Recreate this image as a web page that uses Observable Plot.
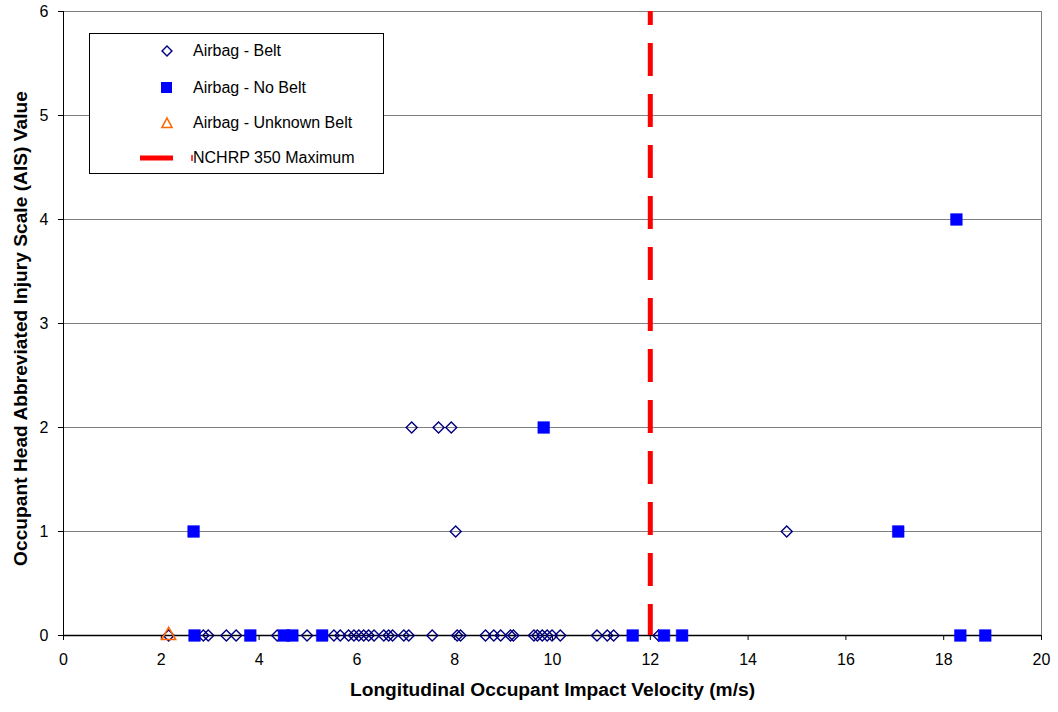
<!DOCTYPE html>
<html>
<head>
<meta charset="utf-8">
<script src="https://cdn.jsdelivr.net/npm/d3@7"></script>
<script src="https://cdn.jsdelivr.net/npm/@observablehq/plot@0.6"></script>
<style>
  html, body { margin: 0; padding: 0; background: #fff; }
  #wrap { position: relative; width: 1058px; height: 712px; font-family: Arial, "Liberation Sans", sans-serif; }
  #legend { position: absolute; left: 89px; top: 33px; width: 295px; height: 141px; border: 1px solid #000; background: #fff; box-sizing: border-box; }
  .item { position: absolute; left: 0; height: 20px; display: flex; align-items: center; font-size: 16px; color: #000; }
  .item svg { position: absolute; }
  .item span { position: absolute; left: 103px; white-space: nowrap; }
</style>
</head>
<body>
<div id="wrap"></div>
<script>
// ---- data ----
const beltX = [2.15, 2.86, 2.96, 3.33, 3.53, 4.37, 4.98, 5.53, 5.66, 5.83, 5.94, 6.04, 6.14, 6.24, 6.35, 6.55, 6.65, 6.73, 6.96, 7.06, 7.54, 8.05, 8.12, 8.63, 8.80, 8.94, 9.14, 9.20, 9.62, 9.69, 9.79, 9.89, 9.99, 10.16, 10.91, 11.12, 11.25, 12.17, 8.02, 14.79, 7.12, 7.67, 7.93];
const beltY = [0, 0, 0, 0, 0, 0, 0, 0, 0, 0, 0, 0, 0, 0, 0, 0, 0, 0, 0, 0, 0, 0, 0, 0, 0, 0, 0, 0, 0, 0, 0, 0, 0, 0, 0, 0, 0, 0, 1, 1, 2, 2, 2];
const noBeltX = [2.68, 3.82, 4.51, 4.68, 5.29, 11.64, 12.28, 12.65, 18.34, 18.85, 2.66, 17.07, 9.82, 18.26];
const noBeltY = [0, 0, 0, 0, 0, 0, 0, 0, 0, 0, 1, 1, 2, 4];
const unknownX = [2.15];
const unknownY = [0];
const nchrpMax = [12];
const xTicks = [0, 2, 4, 6, 8, 10, 12, 14, 16, 18, 20];
const yTicks = [0, 1, 2, 3, 4, 5, 6];
const seriesNames = ["Airbag - Belt", "Airbag - No Belt", "Airbag - Unknown Belt", "NCHRP 350 Maximum"];
const xTitle = "Longitudinal Occupant Impact Velocity (m/s)";
const yTitle = "Occupant Head Abbreviated Injury Scale (AIS) Value";

const belt = beltX.map((x, i) => ({x, y: beltY[i]}));
const noBelt = noBeltX.map((x, i) => ({x, y: noBeltY[i]}));
const unknown = unknownX.map((x, i) => ({x, y: unknownY[i]}));

const chart = Plot.plot({
  width: 1058,
  height: 712,
  marginTop: 11,
  marginRight: 17,
  marginBottom: 77,
  marginLeft: 63,
  style: {fontFamily: "Arial, 'Liberation Sans', sans-serif", fontSize: "16px", background: "white", color: "black"},
  x: {domain: [0, 20]},
  y: {domain: [0, 6]},
  marks: [
    Plot.gridY(yTicks.filter(d => d > 0), {stroke: "#808080", strokeOpacity: 1, strokeWidth: 1}),
    Plot.ruleX([20], {stroke: "#808080", strokeWidth: 1}),
    Plot.ruleX([0], {stroke: "black", strokeWidth: 1}),
    Plot.ruleY([0], {stroke: "black", strokeWidth: 1.3}),
    Plot.axisX({ticks: xTicks, tickSize: 5, tickPadding: 13, label: null, fontSize: 16, tickFormat: d => String(d)}),
    Plot.axisY({ticks: yTicks, tickSize: 5, tickPadding: 10, label: null, fontSize: 16, tickFormat: d => String(d)}),
    Plot.ruleX(nchrpMax, {y1: 6, y2: 0, stroke: "#ff0000", strokeWidth: 5, strokeDasharray: "33,18", strokeDashoffset: 19}),
    Plot.dot(belt, {x: "x", y: "y", symbol: "square", rotate: 45, r: 4.4, fill: "none", stroke: "#000080", strokeWidth: 1.4}),
    Plot.dot(noBelt, {x: "x", y: "y", symbol: "square", r: 6.6, fill: "#0000ff", stroke: "#0000ff", strokeWidth: 0.5}),
    Plot.dot(unknown, {x: "x", y: "y", symbol: "triangle", r: 5.2, fill: "none", stroke: "#ff6600", strokeWidth: 1.6}),
    Plot.text([xTitle], {frameAnchor: "bottom", textAnchor: "middle", dy: 60, fontSize: 19.2, fontWeight: "bold", fill: "black"}),
    Plot.text([yTitle], {frameAnchor: "left", textAnchor: "middle", rotate: -90, dx: -43, dy: 5, fontSize: 19.2, fontWeight: "bold", fill: "black"})
  ]
});

const wrap = document.getElementById("wrap");
wrap.appendChild(chart);

// ---- legend (HTML overlay) ----
const legend = document.createElement("div");
legend.id = "legend";
const rowsTop = [7, 44, 79, 114];
const symbols = [
  '<svg width="14" height="14" style="left:70px;top:3px"><rect x="3.5" y="3.5" width="7" height="7" transform="rotate(45 7 7)" fill="none" stroke="#000080" stroke-width="1.4"/></svg>',
  '<svg width="14" height="14" style="left:70px;top:3px"><rect x="1" y="1" width="11" height="11" fill="#0000ff"/></svg>',
  '<svg width="14" height="14" style="left:70px;top:3px"><path d="M7,2 L12,11.5 L2,11.5 Z" fill="none" stroke="#ff6600" stroke-width="1.6"/></svg>',
  '<svg width="60" height="14" style="left:50px;top:3px"><line x1="0" y1="7" x2="33" y2="7" stroke="#ff0000" stroke-width="5"/><line x1="52" y1="4" x2="52" y2="10" stroke="#ff0000" stroke-width="1.5"/></svg>'
];
seriesNames.forEach((name, i) => {
  const row = document.createElement("div");
  row.className = "item";
  row.style.top = rowsTop[i] + "px";
  row.style.width = "290px";
  row.innerHTML = symbols[i] + "<span>" + name + "</span>";
  legend.appendChild(row);
});
wrap.appendChild(legend);
</script>
</body>
</html>
